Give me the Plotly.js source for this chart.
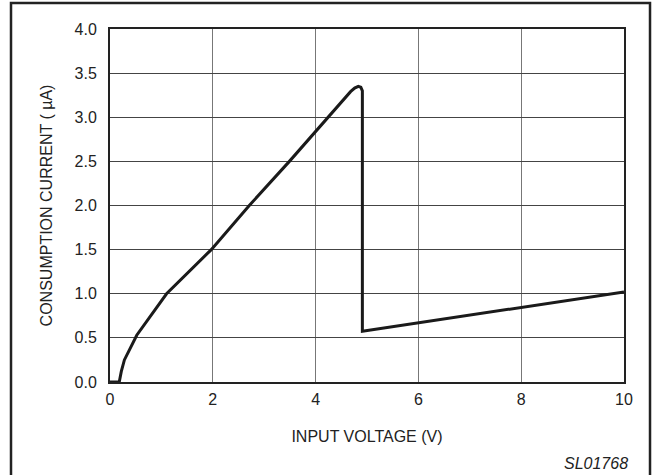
<!DOCTYPE html>
<html>
<head>
<meta charset="utf-8">
<script src="https://cdn.plot.ly/plotly-3.0.1.min.js"></script>
<style>html,body{margin:0;padding:0;background:#fff;}#chart{width:655px;height:475px;}</style>
</head>
<body>
<div id="chart"></div>
<script>
const voltage = [0, 0.18, 0.22, 0.28, 0.52, 0.88, 1.1, 1.97, 2.71, 3.49, 4.03, 4.29, 4.5, 4.68, 4.76, 4.83, 4.88, 4.91, 4.91, 10];
const current = [0, 0, 0.12, 0.25, 0.53, 0.82, 1.0, 1.5, 2.0, 2.5, 2.86, 3.03, 3.18, 3.29, 3.33, 3.35, 3.34, 3.30, 0.575, 1.02];
const xTicks = [0, 2, 4, 6, 8, 10];
const yTicks = [0, 0.5, 1.0, 1.5, 2.0, 2.5, 3.0, 3.5, 4.0];
const yTickLabels = ['0.0', '0.5', '1.0', '1.5', '2.0', '2.5', '3.0', '3.5', '4.0'];

const font = {family: 'Liberation Sans, Arial, sans-serif', size: 16, color: '#222'};

const trace = {
  x: voltage, y: current, mode: 'lines', type: 'scatter',
  line: {color: '#1a1a1a', width: 3, shape: 'linear'}, hoverinfo: 'skip', cliponaxis: false
};

const layout = {
  width: 655, height: 475,
  margin: {l: 110, r: 31, t: 29, b: 93},
  paper_bgcolor: '#fff', plot_bgcolor: '#fff',
  showlegend: false,
  font: font,
  xaxis: {
    range: [0, 10], tickvals: xTicks, ticktext: xTicks.map(String),
    showgrid: true, gridcolor: '#777', gridwidth: 1,
    zeroline: false, showline: true, linecolor: '#222', linewidth: 2, mirror: true,
    ticks: '', ticklen: 0, tickfont: font, ticklabelstandoff: 2,
    title: {text: 'INPUT VOLTAGE (V)', font: font, standoff: 24}
  },
  yaxis: {
    range: [0, 4], tickvals: yTicks, ticktext: yTickLabels,
    showgrid: true, gridcolor: '#444', gridwidth: 1,
    zeroline: false, showline: true, linecolor: '#222', linewidth: 2, mirror: true,
    ticks: '', ticklen: 0, tickfont: font, ticklabelstandoff: 8,
    title: {text: 'CONSUMPTION CURRENT ( µA)', font: font, standoff: 18}
  },
  shapes: [
    {type: 'rect', xref: 'paper', yref: 'paper', x0: -0.1926, x1: 1.0506, y0: -0.35, y1: 1.0737,
     line: {color: '#222', width: 2.5}, fillcolor: 'rgba(0,0,0,0)', layer: 'below'}
  ],
  annotations: [
    {text: '<i>SL01768</i>', xref: 'paper', yref: 'paper', x: 1.012, y: -0.232,
     xanchor: 'right', yanchor: 'middle', showarrow: false, font: font}
  ]
};

Plotly.newPlot('chart', [trace], layout, {staticPlot: true, displayModeBar: false});
</script>
</body>
</html>
